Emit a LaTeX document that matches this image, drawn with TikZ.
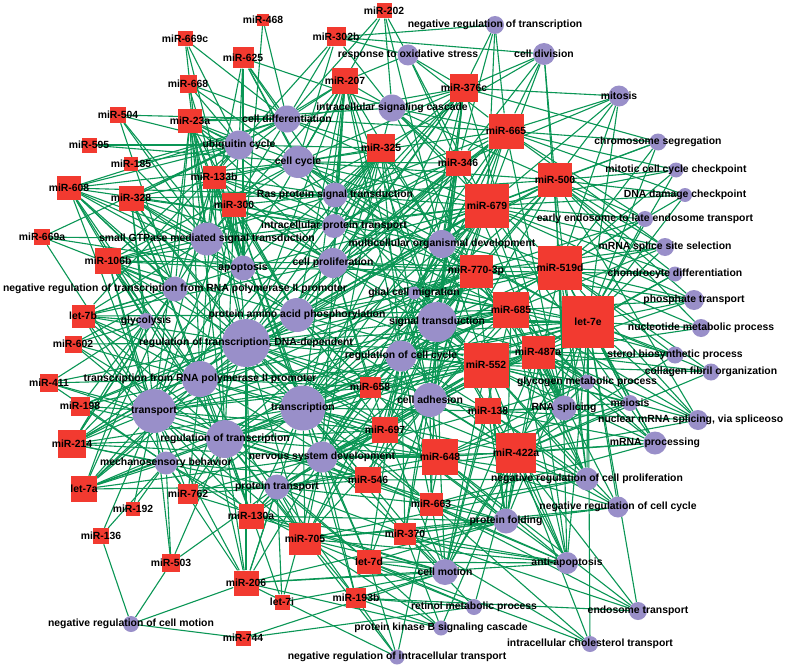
\documentclass[tikz,border=0pt]{standalone}
\usepackage{fontspec}
\setmainfont{Liberation Sans}
\usetikzlibrary{backgrounds}
\pgfdeclarelayer{foreground}
\pgfsetlayers{background,main,foreground}
\definecolor{mirred}{RGB}{242,58,48}
\definecolor{golilac}{RGB}{153,143,201}
\definecolor{edgegreen}{RGB}{10,150,85}
\tikzset{
  x = 1pt, % 1 unit = 1 pixel of the layout
  y = -1pt, % y runs downward
  mirna/.style = { % miRNA node: red square
    rectangle,
    fill = mirred,
    inner sep = 0pt,
    minimum size = #1, % argument = side length
  },
  goterm/.style = { % GO term node: lilac disc
    circle,
    fill = golilac,
    inner sep = 0pt,
    minimum size = #1, % argument = diameter
  },
  tag/.style = { % bold text on top of everything
    font = \fontsize{10.4}{12}\selectfont\bfseries,
    inner sep = 0pt,
  },
  link/.style = { % miRNA -- GO term edge
    draw = edgegreen,
    line width = 1.1pt,
  },
}

\begin{document}
\begin{tikzpicture}
    \useasboundingbox (0,0) rectangle (787,669); % page size
    % miRNAs: name/x/y/side/text
    \foreach \id/\x/\y/\s/\txt in {
      m468/263/20/12/miR-468, m202/384/11/15/miR-202, m302b/336/37/19/miR-302b,
      m669c/185/39/15/miR-669c, m625/243/58/21/miR-625, m207/345/81/26/miR-207,
      m376c/464/88/28/miR-376c, m668/188/84/17/miR-668, m23a/190/121/24/miR-23a,
      m504/118/115/16/miR-504, m595/89/145/15/miR-595, m185/131/164/14/miR-185,
      m665/506/131/35/miR-665, m325/381/148/28/miR-325, m346/458/163/25/miR-346,
      m133b/214/177/23/miR-133b, m608/69/188/24/miR-608, m328/131/198/25/miR-328,
      m300/234/205/24/miR-300, m679/487/206/44/miR-679, m500/555/180/34/miR-500,
      m669a/42/237/16/miR-669a, m106b/108/261/26/miR-106b, m770/476/271/33/miR-770-3p,
      m519d/560/268/44/miR-519d, l7e/588/322/52/let-7e, m685/511/310/36/miR-685,
      l7b/83/316/23/let-7b, m602/73/344/17/miR-602, m487a/538/352/33/miR-487a,
      m552/486/365/45/miR-552, m411/49/383/18/miR-411, m658/370/387/21/miR-658,
      m198/80/406/19/miR-198, m138/488/411/26/miR-138, m214/72/444/28/miR-214,
      m697/385/430/26/miR-697, m648/440/457/36/miR-648, m422a/516/453/40/miR-422a,
      l7a/84/489/26/let-7a, m546/368/480/26/miR-546, m762/188/494/20/miR-762,
      m663/431/504/23/miR-663, m192/133/509/14/miR-192, m130a/251/516/25/miR-130a,
      m136/101/536/16/miR-136, m705/305/539/32/miR-705, m370/405/534/22/miR-370,
      l7d/369/562/24/let-7d, m503/171/563/18/miR-503, m206/246/583/25/miR-206,
      l7i/282/602/15/let-7i, m193b/356/598/20/miR-193b, m744/243/638/15/miR-744
    }{
      \node[mirna=\s pt] (\id) at (\x,\y) {};
      \begin{pgfonlayer}{foreground}
        \node[tag] (\id-t) at (\id) {\txt};
      \end{pgfonlayer}
    } % end loop
    % GO terms: name/x/y/diameter/text
    \foreach \id/\x/\y/\s/\txt in {
      nrt/495/25/18/negative regulation of transcription,
      cdiv/544/54/22/cell division,
      ros/408/55/21/response to oxidative stress,
      mit/619/96/21/mitosis,
      isc/392/108/27/intracellular signaling cascade,
      cdif/287/119/27/cell differentiation,
      ubq/239/145/29/ubiquitin cycle,
      ccyc/298/162/32/cell cycle,
      chs/658/142/17/chromosome segregation,
      mccc/676/170/15/mitotic cell cycle checkpoint,
      dnad/685/195/14/DNA damage checkpoint,
      ras/335/195/25/Ras protein signal transduction,
      eel/645/219/16/early endosome to late endosome transport,
      ipt/334/226/24/intracellular protein transport,
      gtp/207/239/33/small GTPase mediated signal transduction,
      mod/442/244/28/multicellular organismal development,
      mss/665/247/18/mRNA splice site selection,
      apo/243/268/25/apoptosis,
      cpro/333/263/30/cell proliferation,
      chd/675/274/15/chondrocyte differentiation,
      nrp2/175/289/25/negative regulation of transcription from RNA polymerase II promoter,
      gcm/414/293/13/glial cell migration,
      gly/146/321/16/glycolysis,
      paap/297/315/34/protein amino acid phosphorylation,
      pht/694/300/20/phosphate transport,
      sig/437/322/40/signal transduction,
      nmp/701/328/18/nucleotide metabolic process,
      rtdd/246/343/48/{regulation of transcription, DNA-dependent},
      rcc/401/356/31/regulation of cell cycle,
      cad/430/400/34/cell adhesion,
      sbp/675/355/17/sterol biosynthetic process,
      cfo/711/372/17/collagen fibril organization,
      tp2/200/379/36/transcription from RNA polymerase II promoter,
      gmp/587/382/15/glycogen metabolic process,
      mei/630/403/16/meiosis,
      tra/154/411/44/transport,
      tsc/303/408/45/transcription,
      rsp/564/408/25/RNA splicing,
      mrp/655/443/23/mRNA processing,
      rot/225/439/38/regulation of transcription,
      mech/166/463/23/mechanosensory behavior,
      nsd/322/457/31/nervous system development,
      nrcp/587/479/23/negative regulation of cell proliferation,
      ptr/277/487/25/protein transport,
      nrcc/618/507/21/negative regulation of cell cycle,
      pfo/506/521/25/protein folding,
      aapo/567/563/22/anti-apoptosis,
      cmo/445/572/26/cell motion,
      nrcm/131/624/16/negative regulation of cell motion,
      rmp/474/607/16/retinol metabolic process,
      endo/638/611/18/endosome transport,
      pkb/441/628/15/protein kinase B signaling cascade,
      ict/590/644/16/intracellular cholesterol transport,
      nrit/397/657/15/negative regulation of intracellular transport
    }{
      \node[goterm=\s pt] (\id) at (\x,\y) {};
      \begin{pgfonlayer}{foreground}
        \node[tag] (\id-t) at (\id) {\txt};
      \end{pgfonlayer}
    } % end loop
    \node[goterm=20pt] (nms) at (698,420) {}; % cut off at the right edge
    \begin{pgfonlayer}{foreground}
      \node[tag,anchor=west] (nms-t) at (598,420) {nuclear mRNA splicing, via spliceoso};
    \end{pgfonlayer}
    % edges behind the nodes
    \begin{pgfonlayer}{background}
      \fill[white] (0,0) rectangle (787,669); % white ground
      \foreach \m/\gos in {
        m468/{cdif,apo}, m202/{ros,isc,cdif,mod,ccyc},
        m302b/{ros,cdif,ubq,isc,nrt,cdiv,ccyc},
        m669c/{cdif,apo,ubq,gtp},
        m625/{ubq,cdif,ccyc,ras,isc,gtp,ipt,apo},
        m207/{cdif,ubq,ccyc,isc,ros,ras,ipt,cpro,gtp,mod,sig,paap,tsc,rtdd,cad,rcc,tra,nsd},
        m376c/{isc,nrt,cdiv,mit,mod,sig,ros,ccyc,ras,rcc,cpro,cad,tsc,chs,rtdd,paap,ipt,cdif,rsp},
        m668/{ubq,cdif,ccyc,gtp,apo},
        m23a/{ubq,cdif,ccyc,gtp,ras,isc,apo,nrp2,paap,rtdd,tra,tp2,tsc,rot,cpro,ipt},
        m504/{ubq,gtp,cdif,apo,nrp2}, m595/{ubq,ccyc}, m185/{ubq,gtp,cdif},
        m665/{cdiv,mit,nrt,isc,ros,mod,sig,ccyc,cdif,ras,cpro,chs,mccc,rcc,cad,tsc,rsp,eel,ipt,rtdd,paap,nsd,gcm,mss,dnad},
        m325/{isc,ccyc,cdif,ubq,ras,ipt,mod,cpro,sig,paap,rtdd,tsc,rcc,cdiv,cad,tra,tp2,nsd,gtp,apo},
        m346/{isc,ros,nrt,cdiv,mit,mod,sig,ccyc,ras,rcc,cad,cpro,tsc,rtdd,paap,ipt,rsp},
        m133b/{ubq,ccyc,cdif,gtp,ras,apo,ipt,nrp2,paap,rtdd,tra,tsc,tp2,rot,cpro,mod},
        m608/{ubq,gtp,apo,nrp2,ccyc,cdif,ras,paap,rtdd,tp2,tra,tsc,rot,ipt,gly},
        m328/{ubq,gtp,apo,ccyc,cdif,nrp2,gly,paap,rtdd,tp2,ipt,ras,tsc,rot,tra,cpro},
        m300/{ubq,ccyc,ras,ipt,gtp,apo,cpro,paap,rtdd,tsc,mod,tra,tp2,rot,sig,nsd,cdif},
        m679/{cdiv,mit,chs,mccc,dnad,eel,mss,isc,ros,nrt,mod,sig,ccyc,cdif,ras,ipt,cpro,rcc,cad,tsc,rtdd,paap,gcm,rsp,nsd,tra,rot,tp2,mrp,pht,chd,apo,gtp},
        m500/{cdiv,mit,chs,mccc,dnad,eel,mss,chd,mod,sig,isc,ccyc,rcc,cad,pht,rsp,nmp,tsc,rtdd,cpro,ras,nrcp,nms},
        m669a/{gtp,apo,nrp2,tra,ubq},
        m106b/{gtp,apo,nrp2,gly,ubq,ccyc,paap,rtdd,tp2,tra,cpro,ras,rot,tsc,ipt,mech},
        m770/{mod,sig,cpro,ipt,ras,ccyc,isc,rcc,cad,tsc,paap,rtdd,gcm,mss,eel,pht,rsp,nsd,tra,rot,tp2,nrcp,pfo,apo,chd},
        m519d/{mod,sig,mss,chd,pht,eel,dnad,mccc,mit,cdiv,chs,nmp,sbp,cfo,rsp,nms,mei,gmp,rcc,cad,isc,ccyc,cpro,mrp,tsc,rtdd,paap,nrcp,pfo,aapo,gcm},
        l7e/{pht,nmp,sbp,cfo,chd,mss,eel,dnad,mccc,mit,chs,mei,nms,mrp,gmp,rsp,sig,mod,rcc,cad,tsc,nrcp,nrcc,aapo,pfo,cmo,gcm,cpro,ccyc,rtdd,endo,paap,nsd,tra,ptr,rot,ict},
        m685/{sig,mod,gcm,rcc,cad,cpro,rsp,gmp,mss,pht,tsc,paap,rtdd,ipt,nrcp,mrp,nsd,ccyc,tra,rot,tp2,pfo,cmo,aapo,nms,sbp},
        l7b/{gly,nrp2,gtp,apo,tra,tp2,rtdd,paap,rot,ubq,tsc,mech,cpro},
        m602/{gly,tra,tp2,rtdd,nrp2,rot},
        m487a/{sig,rsp,gmp,sbp,cfo,mei,nms,mrp,pht,nmp,rcc,cad,nrcp,pfo,aapo,mod,chd,tsc,rtdd,nsd,cmo,nrcc},
        m552/{sig,rcc,cad,rsp,gmp,mei,mrp,nms,tsc,rtdd,paap,cpro,mod,gcm,nsd,ptr,nrcp,nrcc,pfo,aapo,cmo,sbp,cfo,ccyc,tp2,tra,rot,apo,ipt},
        m411/{tra,tp2,rtdd,rot,mech,gly},
        m658/{tsc,rcc,cad,rtdd,paap,sig,tp2,nsd,tra,rot,cpro,mod},
        m198/{tra,tp2,rot,rtdd,mech,paap,gly},
        m138/{cad,rsp,rcc,sig,gmp,mrp,nrcp,pfo,cmo,tsc,mei,rtdd,nsd,aapo,nrcc,nms},
        m214/{tra,tp2,rot,rtdd,mech,paap,tsc,nsd,ptr,gly,nrp2,gtp,cpro,apo},
        m697/{tsc,cad,rcc,nsd,sig,rtdd,paap,ptr,rot,tp2,cmo,mod,tra,cpro,pfo,aapo},
        m648/{cad,rcc,sig,tsc,nsd,pfo,cmo,nrcp,nrcc,aapo,rsp,mrp,ptr,rot,rtdd,gmp,mei,endo,tra,tp2,paap,nrit},
        m422a/{cad,rsp,mrp,nrcp,nrcc,pfo,aapo,cmo,sig,rcc,gmp,mei,nms,endo,ict,tsc,nsd,sbp,cfo,rmp,rtdd,paap,ptr,pkb},
        l7a/{tra,rot,mech,tp2,rtdd,ptr,tsc,nsd,paap,gly,nrp2,rcc},
        m546/{tsc,nsd,ptr,cad,rcc,cmo,rot,rtdd,pfo,sig,tp2,tra,nrcp,aapo,mech},
        m762/{mech,rot,tra,ptr,tsc,nsd,tp2,rtdd,cmo},
        m663/{pfo,cmo,cad,nsd,tsc,nrcp,aapo,rcc,sig,endo,ict,rtdd,rot,ptr,mrp},
        m192/{tra,mech},
        m130a/{ptr,rot,nsd,tsc,mech,tra,cmo,rtdd,tp2,pfo,cad,rcc,aapo},
        m136/{nrcm,mech,tra},
        m705/{ptr,nsd,tsc,rot,cmo,pfo,cad,rcc,rtdd,tp2,tra,mech,aapo,rmp,pkb,nrit,sig,nrcp,nrcc},
        m370/{cmo,pfo,nsd,tsc,cad,aapo,nrcc,rmp,ict,endo,rcc,sig,ptr,pkb},
        l7d/{cmo,nsd,tsc,ptr,rot,pfo,pkb,nrit,cad,ict,rcc,aapo,rmp},
        m503/{mech,tra,ptr,rot,nrcm},
        m206/{nrcm,ptr,rot,nsd,tsc,cmo,mech,pkb,aapo,tra,rtdd,tp2,pfo,nrit},
        l7i/{ptr,nsd,rot,cmo},
        m193b/{cmo,nrit,pkb,rmp,nsd,ptr,endo,tsc,rot},
        m744/{nrcm,rmp,cmo}}{
        \foreach \g in \gos {\draw[link] (\m) -- (\g);} % one edge per target
      } % end loop
    \end{pgfonlayer}
  \end{tikzpicture}
\end{document}
